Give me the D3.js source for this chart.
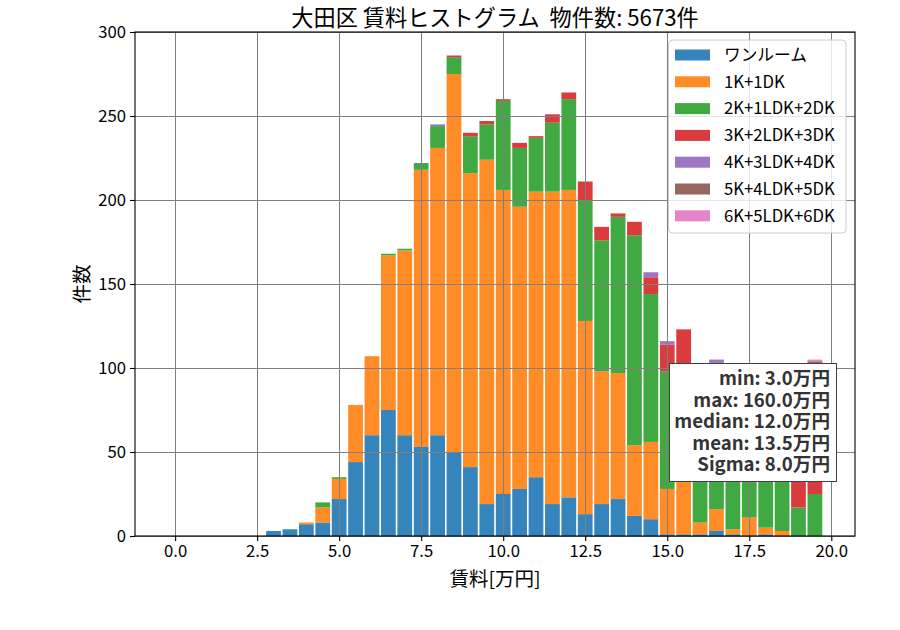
<!DOCTYPE html>
<html>
<head>
<meta charset="utf-8">
<script src="https://cdn.jsdelivr.net/npm/d3@7"></script>
<style>
  body { margin: 0; background: #fff; }
  svg { display: block; font-family: "Noto Sans CJK JP", "Noto Sans", sans-serif; }
</style>
</head>
<body>
<svg id="chart" width="900" height="630"></svg>
<script>
// ---- data ----
const binCenters = [0.0,0.5,1.0,1.5,2.0,2.5,3.0,3.5,4.0,4.5,5.0,5.5,6.0,6.5,7.0,7.5,8.0,8.5,9.0,9.5,
                    10.0,10.5,11.0,11.5,12.0,12.5,13.0,13.5,14.0,14.5,15.0,15.5,16.0,16.5,17.0,17.5,18.0,18.5,19.0,19.5];
const seriesNames = ["ワンルーム","1K+1DK","2K+1LDK+2DK","3K+2LDK+3DK","4K+3LDK+4DK","5K+4LDK+5DK","6K+5LDK+6DK"];
const oneRoom = [0,0,0,0,0,0,3,4,7,8,22,44,60,75,60,53,60,50,41,19,
                 25,28,35,19,23,13,19,22,12,10,1,1,1,3,1,0,1,0,0,0];
const k1      = [0,0,0,0,0,0,0,0,1,9,12,34,47,92,110,165,171,225,175,205,
                 181,168,170,186,183,115,79,75,42,46,27,40,7,13,3,11,4,3,0,0];
const k2      = [0,0,0,0,0,0,0,0,0,3,1,0,0,1,1,4,13,10,22,21,
                 53,35,32,41,54,72,78,93,125,88,70,45,60,65,60,55,55,50,17,25];
const k3      = [0,0,0,0,0,0,0,0,0,0,0,0,0,0,0,0,0,1,2,2,
                 1,3,1,5,4,11,8,2,8,10,16,37,15,22,15,20,15,15,43,78];
const k4      = [0,0,0,0,0,0,0,0,0,0,0,0,0,0,0,0,1,0,0,0,
                 0,0,0,0,0,0,0,0,0,3,2,0,0,2,0,0,0,0,0,0];
const k5      = [0,0,0,0,0,0,0,0,0,0,0,0,0,0,0,0,0,0,0,0,
                 0,0,0,0,0,0,0,0,0,0,0,0,0,0,0,0,0,0,0,1];
const k6      = [0,0,0,0,0,0,0,0,0,0,0,0,0,0,0,0,0,0,0,0,
                 0,0,0,0,0,0,0,0,0,0,0,0,0,0,0,0,0,0,0,1];
const xTicks = [0.0,2.5,5.0,7.5,10.0,12.5,15.0,17.5,20.0];
const yTicks = [0,50,100,150,200,250,300];
const colors = ["#1f77b4","#ff7f0e","#2ca02c","#d62728","#9467bd","#8c564b","#e377c2"];
const titleText = "大田区 賃料ヒストグラム  物件数: 5673件";
const statsLines = ["min: 3.0万円","max: 160.0万円","median: 12.0万円","mean: 13.5万円","Sigma: 8.0万円"];

// ---- build table ----
const seriesValues = [oneRoom,k1,k2,k3,k4,k5,k6];
const table = binCenters.map((c,i) => {
  const row = {center: c};
  seriesNames.forEach((n,j) => row[n] = seriesValues[j][i]);
  return row;
});
const stacked = d3.stack().keys(seriesNames)(table);

// ---- layout ----
const L = 135, R = 855, T = 32, B = 536;
const binW = 0.5, rwidth = 0.9;
const svg = d3.select("#chart");

const x = d3.scaleLinear().domain([-1.2225, 20.7225]).range([L, R]);
const y = d3.scaleLinear().domain([0, 300]).range([B, T]);

// bars
const gBars = svg.append("g");
stacked.forEach((layer, j) => {
  gBars.append("g").attr("fill", colors[j]).attr("fill-opacity", 0.9)
    .selectAll("rect").data(layer.filter(d => d[1] - d[0] > 0)).enter().append("rect")
    .attr("x", d => x(d.data.center - binW*rwidth/2))
    .attr("width", d => x(d.data.center + binW*rwidth/2) - x(d.data.center - binW*rwidth/2))
    .attr("y", d => y(d[1]))
    .attr("height", d => y(d[0]) - y(d[1]));
});

// grid (above bars)
const gGrid = svg.append("g").attr("stroke", "#808080").attr("stroke-width", 1);
gGrid.selectAll("line.vx").data(xTicks).enter().append("line")
  .attr("x1", d => Math.round(x(d)) + 0.5).attr("x2", d => Math.round(x(d)) + 0.5)
  .attr("y1", T).attr("y2", B);
gGrid.selectAll("line.hy").data(yTicks).enter().append("line")
  .attr("y1", d => Math.round(y(d)) + 0.5).attr("y2", d => Math.round(y(d)) + 0.5)
  .attr("x1", L).attr("x2", R);

// axes
const xAxis = d3.axisBottom(x).tickValues(xTicks).tickFormat(d3.format(".1f")).tickSize(5).tickPadding(4);
const yAxis = d3.axisLeft(y).tickValues(yTicks).tickFormat(d3.format("d")).tickSize(5).tickPadding(4);
const gx = svg.append("g").attr("transform", `translate(0,${B})`).call(xAxis);
const gy = svg.append("g").attr("transform", `translate(${L},0)`).call(yAxis);
[gx, gy].forEach(g => {
  g.select(".domain").remove();
  g.selectAll(".tick line").attr("stroke", "#000").attr("stroke-width", 1.1);
  g.selectAll(".tick text").attr("fill", "#000").style("font-size", "16.7px")
    .style("font-family", '"Noto Sans CJK JP", sans-serif');
});

// spines
svg.append("rect").attr("x", L).attr("y", T).attr("width", R - L).attr("height", B - T)
  .attr("fill", "none").attr("stroke", "#000").attr("stroke-width", 1.1);

// title & labels
svg.append("text").attr("x", (L + R) / 2).attr("y", 26).attr("text-anchor", "middle")
  .style("font-size", "22.2px").style("white-space", "pre").attr("xml:space", "preserve")
  .text(titleText);
svg.append("text").attr("x", (L + R) / 2).attr("y", 586).attr("text-anchor", "middle")
  .style("font-size", "19.5px").text("賃料[万円]");
svg.append("text").attr("transform", `translate(82,${(T + B) / 2}) rotate(-90)`)
  .attr("text-anchor", "middle").attr("dy", "0.35em")
  .style("font-size", "19.5px").text("件数");

// legend
const leg = svg.append("g");
leg.append("rect").attr("x", 668.5).attr("y", 40).attr("width", 177.5).attr("height", 193)
  .attr("rx", 4).attr("fill", "#fff").attr("fill-opacity", 0.8)
  .attr("stroke", "#cccccc").attr("stroke-width", 1);
seriesNames.forEach((n, j) => {
  const cy = 55 + j * 26.8;
  leg.append("rect").attr("x", 675).attr("y", cy - 5.5).attr("width", 35).attr("height", 11)
    .attr("fill", colors[j]).attr("fill-opacity", 0.9);
  leg.append("text").attr("x", 724).attr("y", cy).attr("dy", "0.35em")
    .style("font-size", "16.7px").text(n);
});

// stats box
const st = svg.append("g");
st.append("rect").attr("x", 669.5).attr("y", 363.5).attr("width", 167).attr("height", 118)
  .attr("fill", "#fff").attr("stroke", "#404040").attr("stroke-width", 1);
statsLines.forEach((s, i) => {
  st.append("text").attr("x", 830).attr("y", 385 + i * 21.5).attr("text-anchor", "end")
    .attr("fill", "#333").style("font-size", "18.6px").style("font-weight", "bold").text(s);
});
</script>
</body>
</html>
